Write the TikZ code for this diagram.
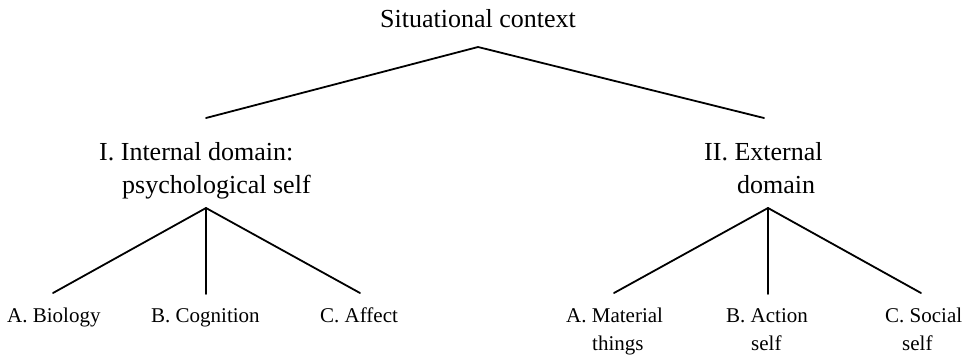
\documentclass[tikz,border=0pt]{standalone}
\usepackage{fontspec}
\setmainfont{Liberation Serif}
\begin{document}
\begin{tikzpicture}[x=1pt,y=-1pt,
  upper/.style={inner sep=0pt,anchor=base west,align=left,
    font=\fontsize{26}{33}\selectfont},
  lower/.style={inner sep=0pt,anchor=base west,align=left,
    font=\fontsize{21}{28}\selectfont},
  branch/.style={line width=1.8pt,line cap=round}]
\useasboundingbox (0,0) rectangle (966,357);

% labels (multi-line labels are placed at the baseline of their last line)
\node[upper] (ctx) at (380,27) {Situational context};
\node[upper] (int) at (99,193) {I. Internal domain:\\\hspace*{23pt}psychological self};
\node[upper] (ext) at (704,193) {II. External\\\hspace*{33pt}domain};
\node[lower] (bio) at (7,322) {A. Biology};
\node[lower] (cog) at (151,322) {B. Cognition};
\node[lower] (aff) at (320,322) {C. Affect};
\node[lower] (mat) at (566,350) {A. Material\\\hspace*{26pt}things};
\node[lower] (act) at (726,350) {B. Action\\\hspace*{25pt}self};
\node[lower] (soc) at (885,350) {C. Social\\\hspace*{17pt}self};

% branch points
\coordinate (ctxB) at (478,47);
\coordinate (intT) at (206,118);
\coordinate (extT) at (764,118);
\coordinate (intB) at (206,208);
\coordinate (extB) at (768,208);
\coordinate (bioT) at (53,293);
\coordinate (cogT) at (206,294);
\coordinate (affT) at (360,293);
\coordinate (matT) at (614,293);
\coordinate (actT) at (768,294);
\coordinate (socT) at (921,293);

% tree
\draw[branch] (intT) -- (ctxB) -- (extT);
\draw[branch] (intB) -- (bioT);
\draw[branch] (intB) -- (cogT);
\draw[branch] (intB) -- (affT);
\draw[branch] (extB) -- (matT);
\draw[branch] (extB) -- (actT);
\draw[branch] (extB) -- (socT);
\end{tikzpicture}
\end{document}
